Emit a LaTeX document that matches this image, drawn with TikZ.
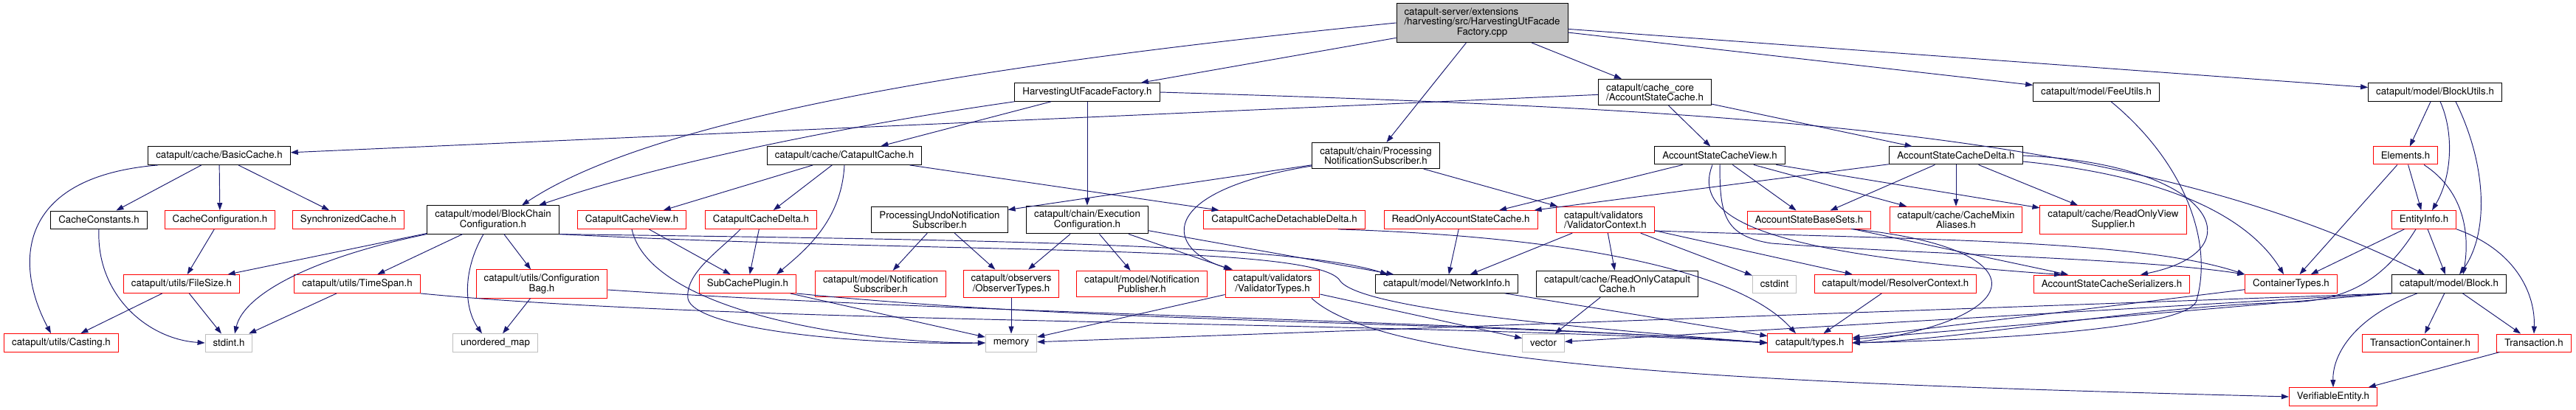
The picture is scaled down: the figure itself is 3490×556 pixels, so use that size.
\documentclass[tikz,border=0pt]{standalone}
\usepackage{fontspec}
\setmainfont{TeX Gyre Heros}
\usepackage{xcolor}
\usepackage{tikz}
\usetikzlibrary{arrows.meta}

\definecolor{edgeblue}{HTML}{191970}
\definecolor{grey75}{HTML}{BFBFBF}

\begin{document}
\begin{tikzpicture}[
  x=1pt, y=1pt,
  >={Triangle[length=10pt,width=7pt]},
  box/.style={draw, line width=1pt, inner xsep=10.5pt, inner ysep=6pt,
              minimum height=24pt, align=center,
              font=\fontsize{13.3}{13.3}\selectfont},
  boxdoc/.style={box, draw=black},
  boxred/.style={box, draw=red},
  boxext/.style={box, draw=grey75},
  boxroot/.style={box, draw=black, fill=grey75},
  arr/.style={->, draw=edgeblue, line width=0.95pt},
]
\useasboundingbox (0,0) rectangle (3490,-556);

% the file itself (top)
\node[boxroot] (R0) at (2008,-31) {\begin{tabular}{@{}l@{}}catapult-server/extensions\\/harvesting/src/HarvestingUtFacade\\\multicolumn{1}{@{}c@{}}{Factory.cpp}\end{tabular}};

% direct includes
\node[boxdoc] (A1) at (1473,-125) {HarvestingUtFacadeFactory.h};
\node[boxdoc, align=left] (A2) at (2242,-125) {catapult/cache\_core\\/AccountStateCache.h};
\node[boxdoc] (A3) at (2840,-125) {catapult/model/FeeUtils.h};
\node[boxdoc] (A4) at (3299,-125) {catapult/model/BlockUtils.h};

\node[boxdoc] (B1) at (297,-211) {catapult/cache/BasicCache.h};
\node[boxdoc] (B2) at (1144,-211) {catapult/cache/CatapultCache.h};
\node[boxdoc] (B3) at (1864,-211) {catapult/chain/Processing\\NotificationSubscriber.h};
\node[boxdoc] (B4) at (2330,-211) {AccountStateCacheView.h};
\node[boxdoc] (B5) at (2650,-211) {AccountStateCacheDelta.h};
\node[boxred] (B6) at (3259,-211) {Elements.h};

\node[boxdoc] (C1) at (134,-298) {CacheConstants.h};
\node[boxred] (C2) at (298,-298) {CacheConfiguration.h};
\node[boxred] (C3) at (472,-298) {SynchronizedCache.h};
\node[boxdoc] (C4) at (668,-298) {catapult/model/BlockChain\\Configuration.h};
\node[boxred] (C5) at (856,-298) {CatapultCacheView.h};
\node[boxred] (C6) at (1031,-298) {CatapultCacheDelta.h};
\node[boxdoc] (C7) at (1273,-298) {ProcessingUndoNotification\\Subscriber.h};
\node[boxdoc] (C8) at (1473,-298) {catapult/chain/Execution\\Configuration.h};
\node[boxred] (C9) at (1740,-298) {CatapultCacheDetachableDelta.h};
\node[boxred] (C10) at (1979,-298) {ReadOnlyAccountStateCache.h};
\node[boxred, align=left] (C11) at (2175,-298) {catapult/validators\\/ValidatorContext.h};
\node[boxred] (C12) at (2451,-298) {AccountStateBaseSets.h};
\node[boxred] (C13) at (2650,-298) {catapult/cache/CacheMixin\\Aliases.h};
\node[boxred] (C14) at (2863,-298) {catapult/cache/ReadOnlyView\\Supplier.h};
\node[boxred] (C15) at (3284,-298) {EntityInfo.h};

\node[boxred] (D1) at (246,-385) {catapult/utils/FileSize.h};
\node[boxred] (D2) at (484,-385) {catapult/utils/TimeSpan.h};
\node[boxred] (D3) at (734,-385) {catapult/utils/Configuration\\Bag.h};
\node[boxred] (D4) at (1013,-385) {SubCachePlugin.h};
\node[boxred] (D5) at (1193,-385) {catapult/model/Notification\\Subscriber.h};
\node[boxred] (D6) at (1370,-385) {catapult/observers\\/ObserverTypes.h};
\node[boxred] (D7) at (1547,-385) {catapult/model/Notification\\Publisher.h};
\node[boxred] (D8) at (1724,-385) {catapult/validators\\/ValidatorTypes.h};
\node[boxdoc] (D9) at (1960,-385) {catapult/model/NetworkInfo.h};
\node[boxdoc] (D10) at (2191,-385) {catapult/cache/ReadOnlyCatapult\\Cache.h};
\node[boxext] (D11) at (2404,-385) {cstdint};
\node[boxred] (D12) at (2568,-385) {catapult/model/ResolverContext.h};
\node[boxred] (D13) at (2861,-385) {AccountStateCacheSerializers.h};
\node[boxred] (D14) at (3104,-385) {ContainerTypes.h};
\node[boxdoc] (D15) at (3318,-385) {catapult/model/Block.h};

\node[boxred] (E1) at (83,-465) {catapult/utils/Casting.h};
\node[boxext] (E2) at (310,-465) {stdint.h};
\node[boxext] (E3) at (671,-465) {unordered\_map};
\node[boxext] (E4) at (1370,-465) {memory};
\node[boxext] (E5) at (2091,-465) {vector};
\node[boxred] (E6) at (2452,-465) {catapult/types.h};
\node[boxred] (E7) at (3279,-465) {TransactionContainer.h};
\node[boxred] (E8) at (3433,-465) {Transaction.h};

\node[boxred] (F1) at (3161,-538) {VerifiableEntity.h};

% includes of the .cpp
\draw[arr] (R0) -- (A1);
\draw[arr] (R0) -- (A2);
\draw[arr] (R0) -- (B3);
\draw[arr] (R0) -- (A3);
\draw[arr] (R0) -- (A4);
\draw[arr] (R0.west) .. controls (1400,-80) and (900,-150) .. ([xshift=39pt]C4.north);

% second level
\draw[arr] (A1.south west) .. controls (1150,-170) and (900,-220) .. ([xshift=62pt]C4.north);
\draw[arr] (A1) -- (B2);
\draw[arr] (A1) -- (C8);
\draw[arr] (A1.east) .. controls (2400,-150) and (2900,-180) .. ([xshift=-33pt]D15.north);
\draw[arr] (A2) -- (B1);
\draw[arr] (A2) -- (B4);
\draw[arr] (A2) -- (B5);
\draw[arr] ([xshift=20pt]A3.south) .. controls (2960,-220) and (3000,-330) .. (2975,-410)
  .. controls (2950,-450) and (2650,-462) .. (E6.east);
\draw[arr] (A4) -- (B6);
\draw[arr] ([xshift=7pt]A4.south) .. controls (3325,-180) and (3322,-240) .. ([xshift=11pt]C15.north);
\draw[arr] ([xshift=28pt]A4.south) .. controls (3372,-230) and (3370,-320) .. ([xshift=14pt]D15.north);

% caches
\draw[arr] (B1) -- (C1);
\draw[arr] (B1) -- (C2);
\draw[arr] (B1) -- (C3);
\draw[arr] ([xshift=-83pt]B1.south) .. controls (20,-240) and (20,-360) .. ([xshift=-14pt]E1.north);
\draw[arr] (B2) -- (C5);
\draw[arr] (B2) -- (C6);
\draw[arr] (B2) -- (C9);
\draw[arr] (B2.south) .. controls (1140,-300) and (1090,-340) .. ([xshift=39pt]D4.north);
\draw[arr] (B3) -- (C7);
\draw[arr] (B3) -- (C11);
\draw[arr] ([yshift=-14pt]B3.west) .. controls (1560,-260) and (1580,-340) .. ([xshift=-54pt]D8.north);

\draw[arr] (B4) -- (C10);
\draw[arr] (B4) -- (C12);
\draw[arr] (B4) -- (C13);
\draw[arr] (B4) -- (C14);
\draw[arr] ([xshift=-10pt]B4.south) .. controls (2290,-300) and (2400,-345) .. ([xshift=-68pt]D13.north);
\draw[arr] (B4.south) .. controls (2330,-290) and (2335,-320) .. (2400,-330)
  .. controls (2600,-345) and (2900,-350) .. (D14.north west);
\draw[arr] (B5) -- (C10);
\draw[arr] (B5) -- (C12);
\draw[arr] (B5) -- (C13);
\draw[arr] (B5) -- (C14);
\draw[arr] (B5.east) .. controls (3000,-222) and (3060,-340) .. ([xshift=39pt]D13.north);
\draw[arr] ([yshift=-8pt]B5.east) .. controls (2950,-240) and (3050,-300) .. ([xshift=-10pt]D14.north);
\draw[arr] (B6) -- (C15);
\draw[arr] (B6) -- (D14);
\draw[arr] ([xshift=25pt]B6.south) .. controls (3340,-260) and (3346,-320) .. ([xshift=19pt]D15.north);

% third level
\draw[arr] (C1.south) .. controls (130,-400) and (200,-460) .. (E2.west);
\draw[arr] (C2) -- (D1);
\draw[arr] (C4) -- (D1);
\draw[arr] (C4) -- (D2);
\draw[arr] (C4) -- (D3);
\draw[arr] (C4.south west) .. controls (420,-350) and (330,-400) .. ([xshift=8pt]E2.north);
\draw[arr] ([xshift=-13pt]C4.south) .. controls (625,-370) and (630,-420) .. ([xshift=-18pt]E3.north);
\draw[arr] (C4.south east) .. controls (1300,-325) and (1750,-330) .. ([xshift=-80pt]D9.north);
\draw[arr] (C4.south east) .. controls (1300,-345) and (1780,-330) .. (1815,-380)
  .. controls (1840,-420) and (2150,-445) .. (E6.west);
\draw[arr] (C5) -- (D4);
\draw[arr] (C5.south) .. controls (880,-420) and (1150,-465) .. (E4.west);
\draw[arr] (C6) -- (D4);
\draw[arr] ([xshift=-28pt]C6.south) .. controls (975,-340) and (928,-370) .. (932,-405)
  .. controls (940,-445) and (1150,-468) .. (E4.west);
\draw[arr] (C7) -- (D5);
\draw[arr] (C7) -- (D6);
\draw[arr] (C8) -- (D6);
\draw[arr] (C8) -- (D7);
\draw[arr] (C8) -- (D8);
\draw[arr] (C8) -- (D9);
\draw[arr] ([xshift=73pt]C9.south) .. controls (2100,-320) and (2350,-360) .. ([xshift=-19pt]E6.north);
\draw[arr] (C10) -- (D9);
\draw[arr] (C11) -- (D9);
\draw[arr] (C11) -- (D10);
\draw[arr] (C11) -- (D11);
\draw[arr] (C11) -- (D12);
\draw[arr] ([yshift=-15pt]C11.east) .. controls (2600,-325) and (2900,-325) .. (D14.north west);
\draw[arr] (C12) -- (D13);
\draw[arr] ([xshift=57pt]C12.south) .. controls (2760,-335) and (2760,-430) .. (E6.east);
\draw[arr] (C15) -- (D14);
\draw[arr] (C15) -- (D15);
\draw[arr] ([xshift=-11pt]C15.south) .. controls (3230,-380) and (3180,-408) .. (3100,-410)
  .. controls (2900,-415) and (2650,-462) .. (E6.east);
\draw[arr] (C15.south east) .. controls (3410,-340) and (3435,-400) .. (E8.north);

% bottom
\draw[arr] (D1) -- (E1);
\draw[arr] (D1) -- (E2);
\draw[arr] (D2) -- (E2);
\draw[arr] (D2.south east) .. controls (1000,-440) and (1900,-435) .. (E6.west);
\draw[arr] (D3) -- (E3);
\draw[arr] ([yshift=-8pt]D3.east) .. controls (1300,-425) and (2000,-435) .. (E6.west);
\draw[arr] (D4) -- (E4);
\draw[arr] (D4.south east) .. controls (1500,-440) and (2000,-435) .. (E6.west);
\draw[arr] (D6) -- (E4);
\draw[arr] (D8) -- (E4);
\draw[arr] (D8) -- (E5);
\draw[arr] ([xshift=53pt]D8.south) .. controls (1880,-500) and (2400,-520) .. (F1.west);
\draw[arr] (D9) -- (E6);
\draw[arr] (D10) -- (E5);
\draw[arr] (D12) -- (E6);
\draw[arr] (D14) -- (E6);
\draw[arr] (D15.south west) -- (E4);
\draw[arr] (D15.south west) -- (E5);
\draw[arr] (D15.south west) -- (E6);
\draw[arr] (D15) -- (E7);
\draw[arr] (D15) -- (E8);
\draw[arr] ([xshift=-43pt]D15.south) .. controls (3190,-430) and (3160,-480) .. (F1.north);
\draw[arr] (E8) -- (F1);
\end{tikzpicture}
\end{document}
